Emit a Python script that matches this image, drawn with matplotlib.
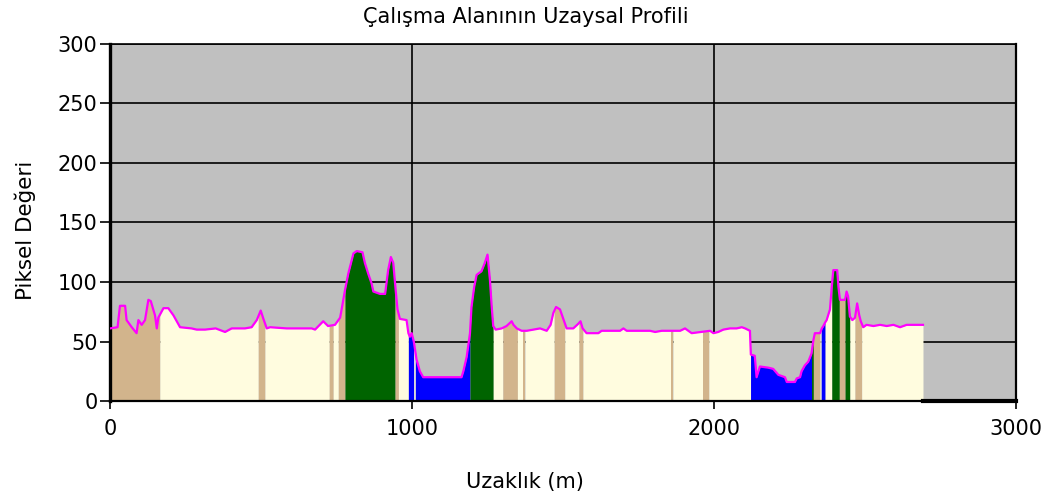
import matplotlib
matplotlib.use("Agg")
import matplotlib.pyplot as plt
import numpy as np

# profile vertices: distance along the line (m) and pixel value
dist = [0, 25, 33, 50, 55, 72, 88, 94, 105, 116, 127, 135, 149, 155, 160, 177,
        193, 210, 221, 232, 270, 287, 315, 350, 381, 403, 447, 469, 486, 499,
        508, 519, 530, 585, 613, 668, 679, 706, 722, 745, 762, 767, 778, 789,
        806, 817, 836, 844, 855, 866, 872, 894, 911, 921, 930, 938, 946, 952,
        960, 982, 988, 993, 999, 1006, 1015, 1026, 1037, 1164, 1170, 1181,
        1192, 1197, 1206, 1214, 1230, 1241, 1250, 1258, 1264, 1269, 1277,
        1297, 1313, 1330, 1336, 1347, 1363, 1380, 1424, 1446, 1459, 1468,
        1477, 1490, 1501, 1512, 1534, 1551, 1558, 1565, 1578, 1617, 1628,
        1689, 1700, 1711, 1788, 1805, 1827, 1888, 1904, 1915, 1926, 1987,
        1998, 2014, 2031, 2053, 2075, 2092, 2103, 2119, 2122, 2135, 2141,
        2152, 2180, 2196, 2213, 2235, 2241, 2268, 2274, 2285, 2290, 2301,
        2312, 2323, 2329, 2334, 2351, 2357, 2362, 2368, 2373, 2384, 2390,
        2395, 2408, 2412, 2417, 2434, 2439, 2444, 2450, 2458, 2467, 2474,
        2481, 2486, 2494, 2505, 2528, 2550, 2572, 2594, 2616, 2638, 2687, 2692]
value = [61, 62, 80, 80, 68, 62, 57, 68, 64, 68, 85, 84, 72, 61, 70, 78,
         78, 72, 67, 62, 61, 60, 60, 61, 58, 61, 61, 62, 68, 76,
         69, 61, 62, 61, 61, 61, 60, 67, 63, 64, 70, 77, 93, 107,
         124, 126, 125, 116, 107, 99, 92, 90, 90, 110, 121, 116, 93, 77,
         69, 68, 57, 54, 57, 50, 35, 25, 20, 20, 25, 37,
         57, 79, 96, 106, 109, 116, 123, 102, 79, 63, 60,
         61, 63, 67, 64, 61, 59, 59, 61, 59, 64, 74,
         79, 77, 69, 61, 61, 65, 67, 61, 57, 57, 59,
         59, 61, 59, 59, 58, 59, 59, 61, 59, 57, 59,
         57, 58, 60, 61, 61, 62, 61, 59, 39, 38, 20,
         29, 28, 27, 22, 20, 16, 16, 19, 20, 25, 30,
         33, 40, 51, 57, 57, 61, 63, 66, 68, 77, 96,
         110, 110, 96, 85, 85, 92, 88, 71, 68, 70, 82,
         72, 67, 62, 64, 63, 64, 63, 64, 62, 64, 64, 64]

# land cover classes along the profile
seg_start = [0, 165, 491, 513, 726, 739, 756, 778, 944, 955, 988, 1006, 1011,
             1192, 1269, 1301, 1349, 1366, 1374, 1471, 1506, 1553, 1566, 1858,
             1864, 1962, 1983, 2121, 2323, 2329, 2351, 2355, 2368, 2390, 2415,
             2434, 2450, 2467, 2489]
seg_end = seg_start[1:] + [2692]
seg_class = ["tan", "cream", "tan", "cream", "tan", "cream", "tan", "green",
             "tan", "cream", "blue", "cream", "blue", "green", "cream", "tan",
             "cream", "tan", "cream", "tan", "cream", "tan", "cream", "tan",
             "cream", "tan", "cream", "blue", "green", "tan", "cream", "blue",
             "cream", "green", "tan", "green", "cream", "tan", "cream"]

colors = {"tan": "#D2B48C", "cream": "#FFFCDF", "green": "#006400",
          "blue": "#0000FF"}

dist = np.array(dist, dtype=float)
value = np.array(value, dtype=float)

fig = plt.figure(figsize=(10.57, 5.04), dpi=100)
ax = fig.add_axes([110 / 1057, 1 - 401 / 504, 906 / 1057, 357 / 504])
ax.set_facecolor("#C0C0C0")

for s, e, c in zip(seg_start, seg_end, seg_class):
    inside = (dist > s) & (dist < e)
    xs = np.concatenate([[s], dist[inside], [e]])
    ys = np.interp(xs, dist, value)
    ax.fill_between(xs, 0, ys, color=colors[c], lw=0, zorder=2)

ax.plot(dist, value, color="#FF00FF", lw=1.6, zorder=3)
# no data past the end of the line
ax.plot([2692, 3000], [0, 0], color="black", lw=3, zorder=4, clip_on=False)

ax.set_xlim(0, 3000)
ax.set_ylim(0, 300)
ax.set_xticks([0, 1000, 2000, 3000])
ax.set_yticks(np.arange(0, 301, 50))
ax.set_axisbelow(True)
ax.grid(True, color="black", lw=1.2)

ax.tick_params(axis="both", direction="out", color="black", width=1.2,
               labelsize=15)
ax.tick_params(axis="y", length=7, pad=2)
ax.tick_params(axis="x", length=6, pad=7)

for side, w in [("left", 2.4), ("bottom", 1.6), ("right", 1.6), ("top", 1.2)]:
    ax.spines[side].set_linewidth(w)
    ax.spines[side].set_color("black")

fig.text(0.497, 1 - 17 / 504, "Çalışma Alanının Uzaysal Profili",
         ha="center", va="center", fontsize=15)
fig.text(0.497, 1 - 482 / 504, "Uzaklık (m)", ha="center", va="center",
         fontsize=15)
fig.text(25 / 1057, 1 - 230 / 504, "Piksel Değeri", ha="center",
         va="center", rotation=90, fontsize=15.5)

fig.savefig("out.png", dpi=100)
